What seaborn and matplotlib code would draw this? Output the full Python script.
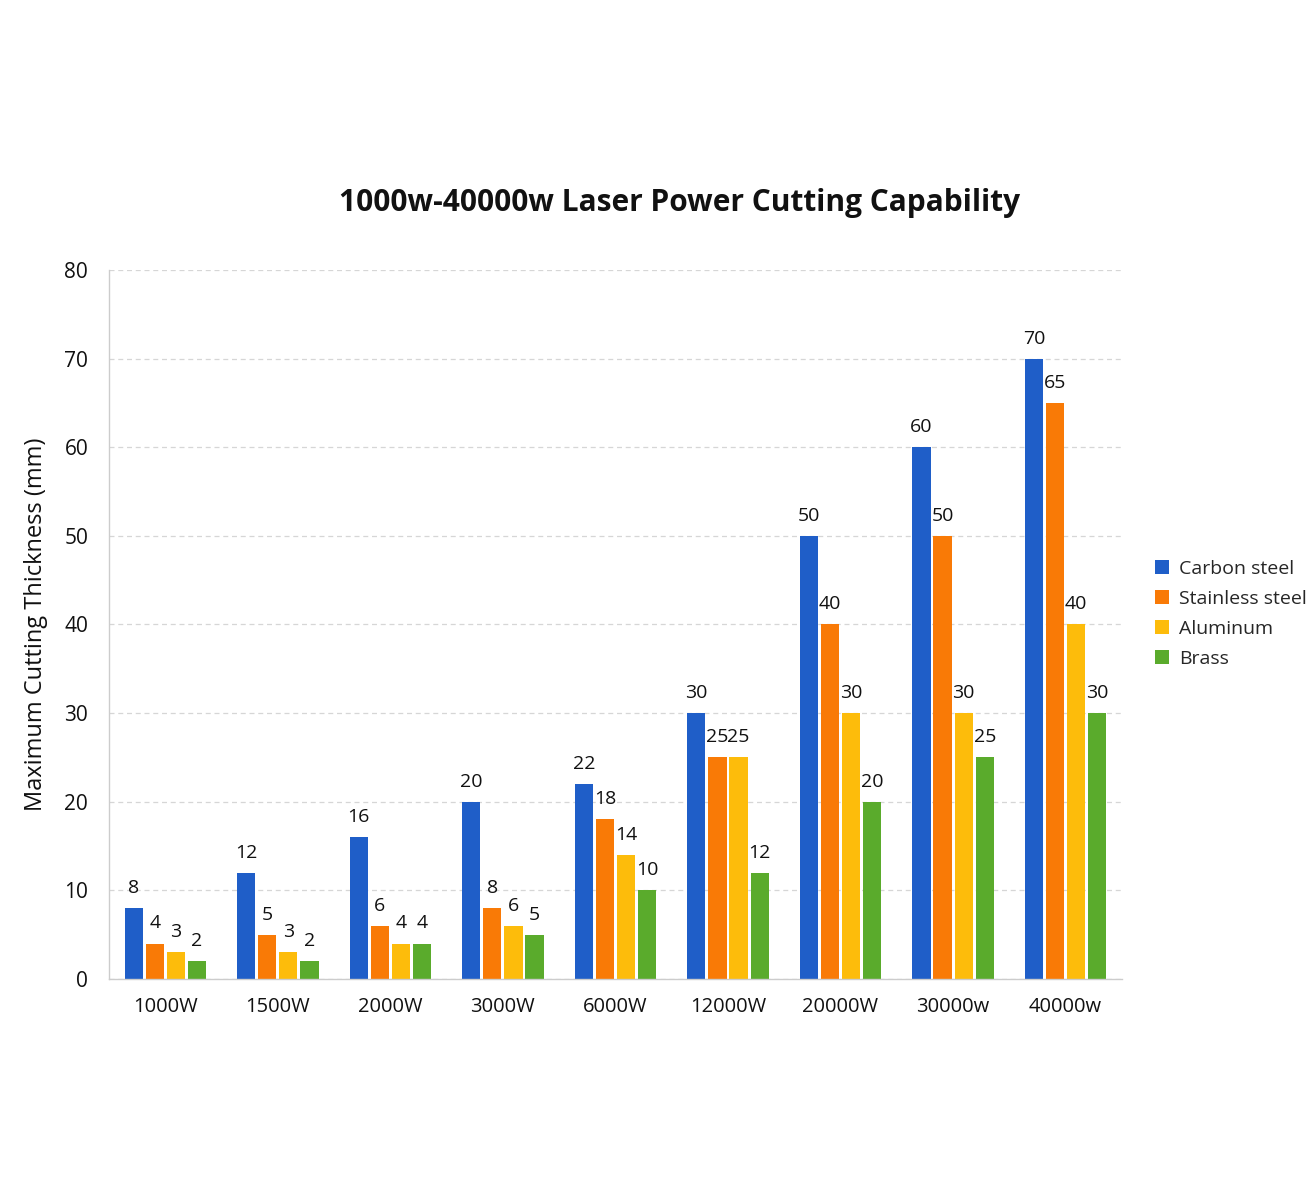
import pandas as pd
import numpy as np
import matplotlib.pyplot as plt
import seaborn as sns

# chart values
powers = ['1000W', '1500W', '2000W', '3000W', '6000W', '12000W', '20000W', '30000w', '40000w']
materials = ['Carbon steel', 'Stainless steel', 'Aluminum', 'Brass']
carbon = [8, 12, 16, 20, 22, 30, 50, 60, 70]
stainless = [4, 5, 6, 8, 18, 25, 40, 50, 65]
aluminum = [3, 3, 4, 6, 14, 25, 30, 30, 40]
brass = [2, 2, 4, 5, 10, 12, 20, 25, 30]

colors = ['#1f5ec8', '#f97a06', '#fdbc0b', '#5aab2c']

df = pd.DataFrame({
    'power': powers * 4,
    'material': [m for m in materials for _ in powers],
    'value': carbon + stainless + aluminum + brass,
})

sns.set_style('white')
plt.rcParams['font.family'] = ['Open Sans', 'DejaVu Sans']

fig = plt.figure(figsize=(13.12, 11.99), dpi=100)
ax = fig.add_axes([0.0831, 0.1835, 0.772, 0.5913])

sns.barplot(data=df, x='power', y='value', hue='material', order=powers,
            hue_order=materials, palette=colors, width=0.75, gap=0.14,
            saturation=1, linewidth=0, ax=ax, legend=True)

# value labels
for cont in ax.containers:
    ax.bar_label(cont, fmt='%g', padding=8, fontsize=14, color='#111111')

ax.set_ylim(0, 80)
ax.set_xlim(-0.5, len(powers) - 0.5)
ax.set_yticks(range(0, 81, 10))
ax.yaxis.grid(True, linestyle=(0, (4, 3)), color='#d6d6d6', linewidth=0.9)
ax.set_axisbelow(True)

for s in ['top', 'right']:
    ax.spines[s].set_visible(False)
for s in ['left', 'bottom']:
    ax.spines[s].set_color('#cccccc')
    ax.spines[s].set_linewidth(1.0)

# x ticks between groups
ax.set_xticks(np.arange(-0.5, len(powers), 1), minor=True)
ax.tick_params(axis='x', which='major', length=0, pad=13, labelsize=14.5,
               labelcolor='#111111')
ax.tick_params(axis='x', which='minor', length=7, color='#cccccc', width=1)
ax.tick_params(axis='y', which='major', length=7, color='#cccccc', width=1,
               labelsize=15, pad=8, labelcolor='#111111')

ax.set_xlabel('')
ax.set_ylabel('Maximum Cutting Thickness (mm)', fontsize=17, labelpad=12,
              color='#111111')

fig.text(0.518, 0.831, '1000w-40000w Laser Power Cutting Capability',
         fontsize=21.5, fontweight='bold', ha='center', va='center',
         color='#111111')

ax.legend(loc='center left', bbox_to_anchor=(1.015, 0.515), frameon=False,
          fontsize=14, handlelength=0.75, handleheight=0.75, handletextpad=0.5,
          labelspacing=0.62, borderaxespad=0.4, borderpad=0.5)

fig.savefig('out.png', dpi=100)
